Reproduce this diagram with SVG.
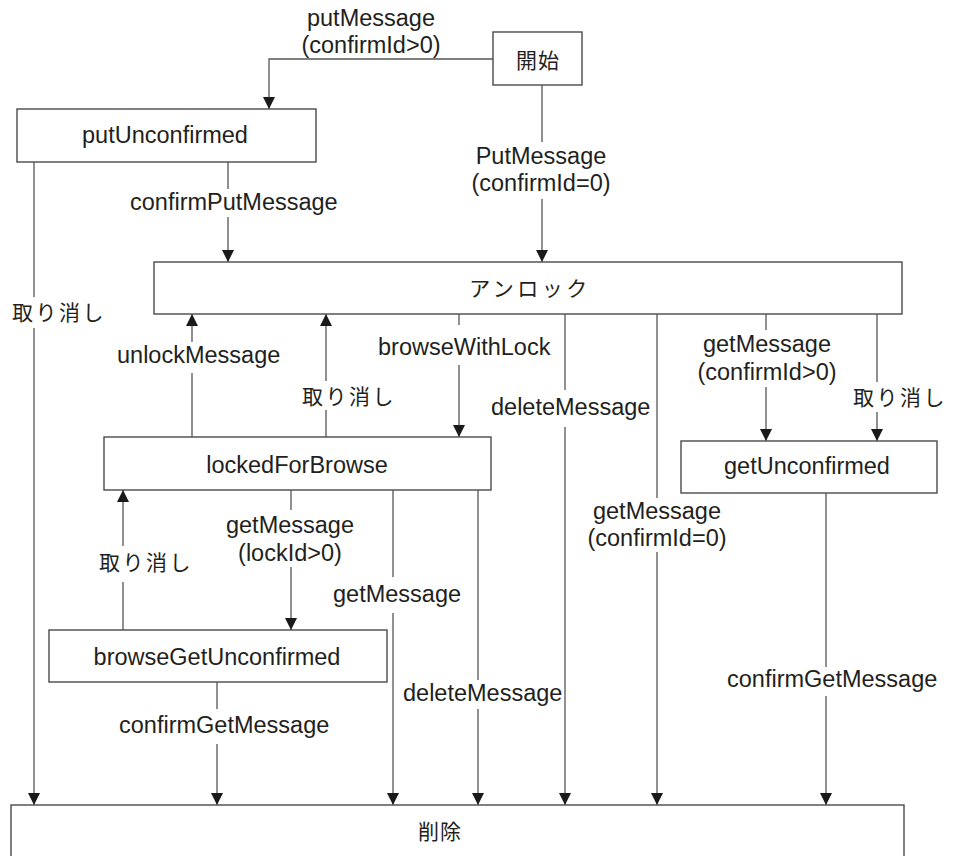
<svg xmlns="http://www.w3.org/2000/svg" width="953" height="856" viewBox="0 0 953 856">
<defs>
<marker id="ah" markerUnits="userSpaceOnUse" markerWidth="12" markerHeight="12" refX="12" refY="6" orient="auto">
<path d="M0,0 L12,6 L0,12 z" fill="#1a1a1a"/>
</marker>
<style>
.box{fill:#fff;stroke:#4a4a4a;stroke-width:1.4}
.ln{fill:none;stroke:#555;stroke-width:1.3}
.ar{fill:none;stroke:#555;stroke-width:1.3;marker-end:url(#ah)}
.t{font-family:"Liberation Sans",Arial,sans-serif;font-size:23.5px;fill:#231f20}
.c{text-anchor:middle}
.j{font-family:"Noto Sans CJK JP","Noto Sans CJK SC",sans-serif;font-size:21px;fill:#231f20}
.sp{letter-spacing:2.5px}
</style>
</defs>
<rect width="953" height="856" fill="#fff"/>

<g id="connectors">
<!-- start -> putUnconfirmed -->
<polyline class="ar" points="493,59 269,59 269,109"/>
<!-- start -> unlock -->
<line class="ln" x1="542" y1="85" x2="542" y2="142"/>
<line class="ar" x1="542" y1="199" x2="542" y2="262"/>
<!-- putUnconfirmed -> unlock -->
<line class="ln" x1="228" y1="162" x2="228" y2="189"/>
<line class="ar" x1="228" y1="217" x2="228" y2="262"/>
<!-- putUnconfirmed -> delete -->
<line class="ln" x1="34" y1="162" x2="34" y2="297"/>
<line class="ar" x1="34" y1="328" x2="34" y2="805"/>
<!-- locked -> unlock (unlockMessage) -->
<line class="ln" x1="192" y1="437" x2="192" y2="373"/>
<line class="ar" x1="192" y1="342" x2="192" y2="314"/>
<!-- locked -> unlock (cancel) -->
<line class="ln" x1="326" y1="437" x2="326" y2="410"/>
<line class="ar" x1="326" y1="381" x2="326" y2="314"/>
<!-- unlock -> locked (browseWithLock) -->
<line class="ln" x1="459" y1="314" x2="459" y2="325"/>
<line class="ar" x1="459" y1="365" x2="459" y2="437"/>
<!-- unlock -> delete (deleteMessage) -->
<line class="ln" x1="565" y1="314" x2="565" y2="390"/>
<line class="ar" x1="565" y1="427" x2="565" y2="805"/>
<!-- unlock -> delete (getMessage confirmId=0) -->
<line class="ln" x1="657" y1="314" x2="657" y2="498"/>
<line class="ar" x1="657" y1="552" x2="657" y2="805"/>
<!-- unlock -> getUnconfirmed (getMessage confirmId>0) -->
<line class="ln" x1="766" y1="314" x2="766" y2="330"/>
<line class="ar" x1="766" y1="387" x2="766" y2="441"/>
<!-- unlock -> getUnconfirmed (cancel) -->
<line class="ln" x1="877" y1="314" x2="877" y2="382"/>
<line class="ar" x1="877" y1="412" x2="877" y2="441"/>
<!-- getUnconfirmed -> delete -->
<line class="ln" x1="826" y1="493" x2="826" y2="667"/>
<line class="ar" x1="826" y1="696" x2="826" y2="805"/>
<!-- locked -> browseGetUnconfirmed -->
<line class="ln" x1="291" y1="490" x2="291" y2="510"/>
<line class="ar" x1="291" y1="567" x2="291" y2="630"/>
<!-- locked -> delete (getMessage) -->
<line class="ln" x1="393" y1="490" x2="393" y2="577"/>
<line class="ar" x1="393" y1="613" x2="393" y2="805"/>
<!-- locked -> delete (deleteMessage) -->
<line class="ln" x1="478" y1="490" x2="478" y2="680"/>
<line class="ar" x1="478" y1="709" x2="478" y2="805"/>
<!-- browseGetUnconfirmed -> locked (cancel) -->
<line class="ln" x1="123" y1="630" x2="123" y2="582"/>
<line class="ar" x1="123" y1="546" x2="123" y2="490"/>
<!-- browseGetUnconfirmed -> delete -->
<line class="ln" x1="217" y1="682" x2="217" y2="709"/>
<line class="ar" x1="217" y1="744" x2="217" y2="805"/>

<!-- labels -->
<text class="t c" x="371" y="26">putMessage</text>
<text class="t c" x="371" y="53">(confirmId&gt;0)</text>
<text class="t c" x="541" y="164">PutMessage</text>
<text class="t c" x="541" y="191">(confirmId=0)</text>
<text class="t" x="130" y="210">confirmPutMessage</text>
<text class="j sp" x="12" y="320">取り消し</text>
<text class="t" x="117" y="363">unlockMessage</text>
<text class="j sp" x="302" y="404">取り消し</text>
<text class="t" x="378" y="355">browseWithLock</text>
<text class="t" x="491" y="415">deleteMessage</text>
<text class="t c" x="657" y="519">getMessage</text>
<text class="t c" x="657" y="546">(confirmId=0)</text>
<text class="t c" x="767" y="352">getMessage</text>
<text class="t c" x="767" y="380">(confirmId&gt;0)</text>
<text class="j sp" x="853" y="405">取り消し</text>
<text class="t" x="727" y="687">confirmGetMessage</text>
<text class="t c" x="290" y="533">getMessage</text>
<text class="t c" x="290" y="561">(lockId&gt;0)</text>
<text class="t" x="333" y="602">getMessage</text>
<text class="t" x="403" y="701">deleteMessage</text>
<text class="j sp" x="99" y="570">取り消し</text>
<text class="t" x="119" y="733">confirmGetMessage</text>
</g>

<g id="start">
<rect class="box" x="493" y="32" width="89" height="53"/>
<text class="j c" x="538" y="68" letter-spacing="1">開始</text>
</g>
<g id="putUnconfirmed">
<rect class="box" x="17" y="109" width="299" height="53"/>
<text class="t c" x="165" y="143">putUnconfirmed</text>
</g>
<g id="unlock">
<rect class="box" x="154" y="262" width="748" height="52"/>
<text class="j c" x="530" y="296" letter-spacing="3.5">アンロック</text>
</g>
<g id="lockedForBrowse">
<rect class="box" x="104" y="437" width="387" height="53"/>
<text class="t c" x="297" y="473">lockedForBrowse</text>
</g>
<g id="getUnconfirmed">
<rect class="box" x="681" y="441" width="256" height="52"/>
<text class="t c" x="807" y="474">getUnconfirmed</text>
</g>
<g id="browseGetUnconfirmed">
<rect class="box" x="49" y="630" width="338" height="52"/>
<text class="t c" x="217" y="665">browseGetUnconfirmed</text>
</g>
<g id="delete">
<rect class="box" x="11" y="805" width="893" height="70"/>
<text class="j c" x="440" y="839" letter-spacing="1">削除</text>
</g>
</svg>
